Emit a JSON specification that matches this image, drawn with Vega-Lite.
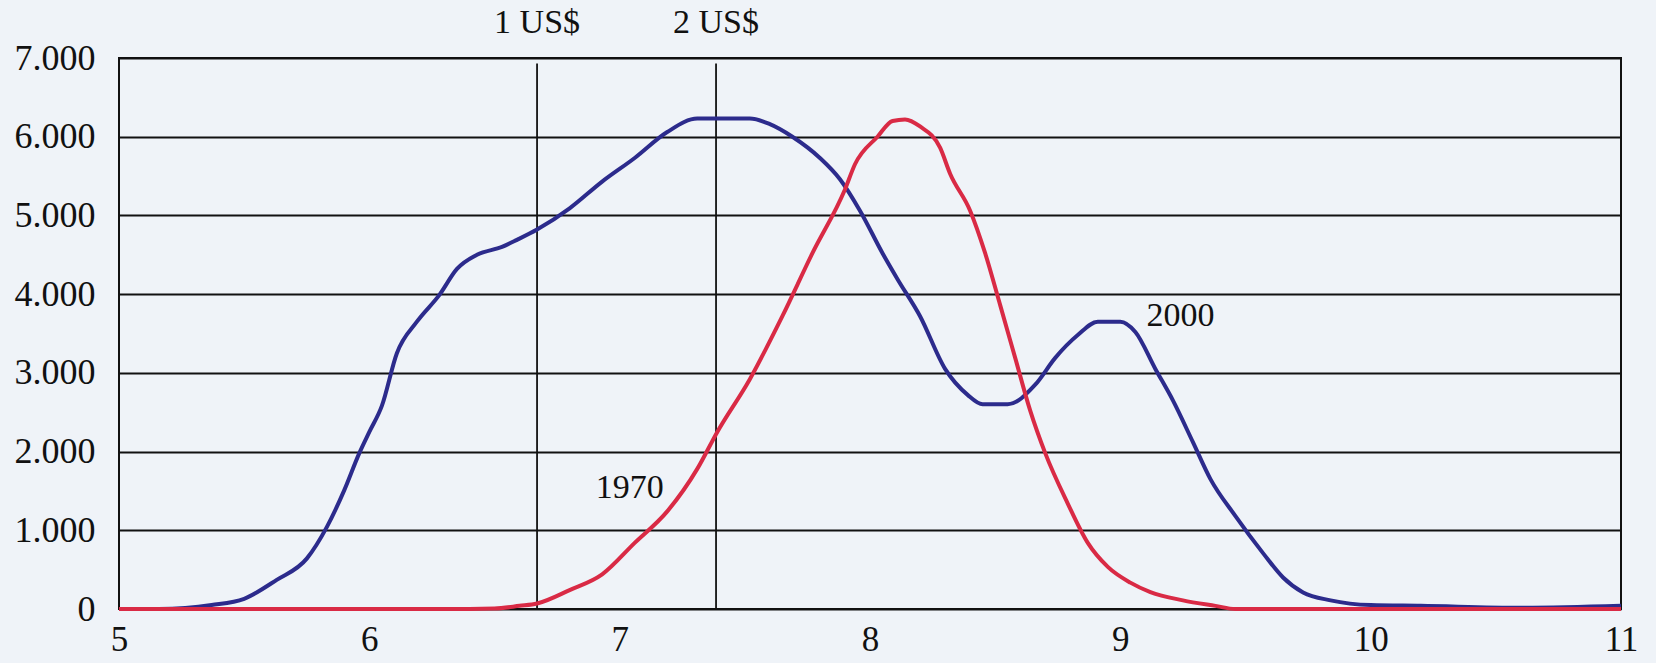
{
  "$schema": "https://vega.github.io/schema/vega-lite/v6.json",
  "autosize": {"type": "none"},
  "width": 1502,
  "height": 551,
  "padding": {"left": 119, "top": 58, "right": 35, "bottom": 54},
  "background": "#eff3f8",
  "config": {
    "view": {"stroke": "#111111", "strokeWidth": 2},
    "font": "Liberation Serif"
  },
  "datasets": {
    "curves": [
      {"series": "2000", "x": 5.0, "y": 0},
      {"series": "2000", "x": 5.16, "y": 0},
      {"series": "2000", "x": 5.37, "y": 50},
      {"series": "2000", "x": 5.5, "y": 130},
      {"series": "2000", "x": 5.63, "y": 370},
      {"series": "2000", "x": 5.75, "y": 640},
      {"series": "2000", "x": 5.83, "y": 1040},
      {"series": "2000", "x": 5.9, "y": 1510},
      {"series": "2000", "x": 5.96, "y": 1980},
      {"series": "2000", "x": 6.0, "y": 2250},
      {"series": "2000", "x": 6.05, "y": 2580},
      {"series": "2000", "x": 6.11, "y": 3250},
      {"series": "2000", "x": 6.19, "y": 3650},
      {"series": "2000", "x": 6.28, "y": 3990},
      {"series": "2000", "x": 6.35, "y": 4320},
      {"series": "2000", "x": 6.43, "y": 4500},
      {"series": "2000", "x": 6.53, "y": 4600},
      {"series": "2000", "x": 6.59, "y": 4690},
      {"series": "2000", "x": 6.67, "y": 4820},
      {"series": "2000", "x": 6.8, "y": 5090},
      {"series": "2000", "x": 6.93, "y": 5430},
      {"series": "2000", "x": 7.06, "y": 5730},
      {"series": "2000", "x": 7.19, "y": 6060},
      {"series": "2000", "x": 7.31, "y": 6230},
      {"series": "2000", "x": 7.52, "y": 6230},
      {"series": "2000", "x": 7.6, "y": 6160},
      {"series": "2000", "x": 7.69, "y": 6000},
      {"series": "2000", "x": 7.8, "y": 5730},
      {"series": "2000", "x": 7.88, "y": 5460},
      {"series": "2000", "x": 7.96, "y": 5060},
      {"series": "2000", "x": 8.05, "y": 4520},
      {"series": "2000", "x": 8.11, "y": 4190},
      {"series": "2000", "x": 8.2, "y": 3720},
      {"series": "2000", "x": 8.3, "y": 3050},
      {"series": "2000", "x": 8.39, "y": 2720},
      {"series": "2000", "x": 8.45, "y": 2600},
      {"series": "2000", "x": 8.55, "y": 2600},
      {"series": "2000", "x": 8.66, "y": 2850},
      {"series": "2000", "x": 8.74, "y": 3190},
      {"series": "2000", "x": 8.83, "y": 3480},
      {"series": "2000", "x": 8.91, "y": 3650},
      {"series": "2000", "x": 9.0, "y": 3650},
      {"series": "2000", "x": 9.06, "y": 3520},
      {"series": "2000", "x": 9.14, "y": 3050},
      {"series": "2000", "x": 9.21, "y": 2650},
      {"series": "2000", "x": 9.29, "y": 2120},
      {"series": "2000", "x": 9.36, "y": 1650},
      {"series": "2000", "x": 9.46, "y": 1180},
      {"series": "2000", "x": 9.57, "y": 710},
      {"series": "2000", "x": 9.65, "y": 400},
      {"series": "2000", "x": 9.73, "y": 210},
      {"series": "2000", "x": 9.84, "y": 110},
      {"series": "2000", "x": 10.0, "y": 50},
      {"series": "2000", "x": 10.2, "y": 40},
      {"series": "2000", "x": 10.6, "y": 15},
      {"series": "2000", "x": 11.0, "y": 40},
      {"series": "1970", "x": 5.0, "y": 0},
      {"series": "1970", "x": 6.4, "y": 0},
      {"series": "1970", "x": 6.5, "y": 5},
      {"series": "1970", "x": 6.6, "y": 40},
      {"series": "1970", "x": 6.67, "y": 70},
      {"series": "1970", "x": 6.8, "y": 240},
      {"series": "1970", "x": 6.93, "y": 440},
      {"series": "1970", "x": 7.06, "y": 840},
      {"series": "1970", "x": 7.19, "y": 1240},
      {"series": "1970", "x": 7.31, "y": 1780},
      {"series": "1970", "x": 7.39, "y": 2250},
      {"series": "1970", "x": 7.52, "y": 2920},
      {"series": "1970", "x": 7.65, "y": 3720},
      {"series": "1970", "x": 7.77, "y": 4520},
      {"series": "1970", "x": 7.9, "y": 5330},
      {"series": "1970", "x": 7.94, "y": 5650},
      {"series": "1970", "x": 8.03, "y": 6000},
      {"series": "1970", "x": 8.09, "y": 6200},
      {"series": "1970", "x": 8.14, "y": 6220},
      {"series": "1970", "x": 8.2, "y": 6130},
      {"series": "1970", "x": 8.28, "y": 5860},
      {"series": "1970", "x": 8.32, "y": 5530},
      {"series": "1970", "x": 8.4, "y": 5060},
      {"series": "1970", "x": 8.46, "y": 4520},
      {"series": "1970", "x": 8.52, "y": 3860},
      {"series": "1970", "x": 8.58, "y": 3190},
      {"series": "1970", "x": 8.64, "y": 2520},
      {"series": "1970", "x": 8.7, "y": 1980},
      {"series": "1970", "x": 8.79, "y": 1340},
      {"series": "1970", "x": 8.87, "y": 840},
      {"series": "1970", "x": 8.95, "y": 535},
      {"series": "1970", "x": 9.04, "y": 335},
      {"series": "1970", "x": 9.12, "y": 215},
      {"series": "1970", "x": 9.25, "y": 110},
      {"series": "1970", "x": 9.38, "y": 40},
      {"series": "1970", "x": 9.46, "y": 0},
      {"series": "1970", "x": 11.0, "y": 0}
    ],
    "vlines": [
      {"x": 6.67, "label": "1 US$", "y0": 0, "y1": 6930, "ty": 7440},
      {"x": 7.385, "label": "2 US$", "y0": 0, "y1": 6930, "ty": 7440}
    ],
    "labels": [
      {"x": 7.04, "y": 1540, "text": "1970"},
      {"x": 9.24, "y": 3720, "text": "2000"}
    ]
  },
  "layer": [
    {
      "data": {"name": "vlines"},
      "mark": {"type": "rule", "color": "#111111", "strokeWidth": 1.8},
      "encoding": {
        "x": {"field": "x", "type": "quantitative", "scale": {"domain": [5, 11], "nice": false, "zero": false},
              "axis": {"values": [5, 6, 7, 8, 9, 10, 11], "format": "d", "grid": false, "domain": false, "ticks": false, "labelPadding": 13, "labelFontSize": 35, "labelColor": "#111111", "labelFont": "Liberation Serif", "title": null, "labelFlush": false}},
        "y": {"field": "y0", "type": "quantitative", "scale": {"domain": [0, 7000], "nice": false},
              "axis": {"values": [0, 1000, 2000, 3000, 4000, 5000, 6000, 7000], "grid": true, "gridColor": "#111111", "gridWidth": 2, "gridOpacity": 1, "domain": false, "ticks": false, "labelPadding": 24, "labelFontSize": 36, "labelColor": "#111111", "labelFont": "Liberation Serif", "title": null, "labelExpr": "replace(format(datum.value, ',d'), ',', '.')"}},
        "y2": {"field": "y1"}
      }
    },
    {
      "data": {"name": "vlines"},
      "mark": {"type": "text", "fontSize": 34, "color": "#111111", "font": "Liberation Serif", "baseline": "middle", "align": "center"},
      "encoding": {
        "x": {"field": "x", "type": "quantitative"},
        "y": {"field": "ty", "type": "quantitative"},
        "text": {"field": "label"}
      }
    },
    {
      "data": {"name": "curves"},
      "mark": {"type": "line", "strokeWidth": 4, "strokeJoin": "round", "interpolate": "monotone"},
      "encoding": {
        "x": {"field": "x", "type": "quantitative"},
        "y": {"field": "y", "type": "quantitative"},
        "color": {"field": "series", "type": "nominal", "scale": {"domain": ["1970", "2000"], "range": ["#d92a45", "#2c2b8c"]}, "legend": null},
        "order": {"field": "x", "type": "quantitative"}
      }
    },
    {
      "data": {"name": "labels"},
      "mark": {"type": "text", "fontSize": 34, "color": "#111111", "font": "Liberation Serif", "baseline": "middle", "align": "center"},
      "encoding": {
        "x": {"field": "x", "type": "quantitative"},
        "y": {"field": "y", "type": "quantitative"},
        "text": {"field": "text"}
      }
    }
  ]
}
